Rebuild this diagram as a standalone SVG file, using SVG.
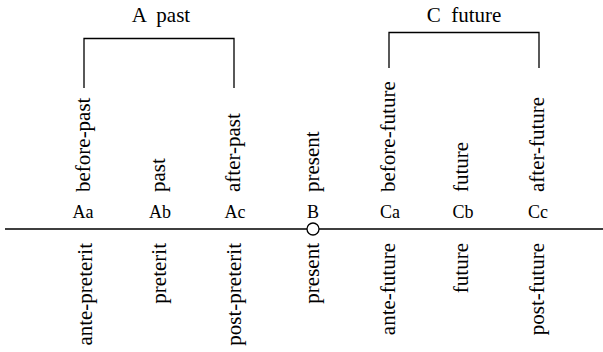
<svg xmlns="http://www.w3.org/2000/svg" width="603" height="352" viewBox="0 0 603 352" font-family="'Liberation Serif', 'DejaVu Serif', 'Times New Roman', serif">
<style>
text{font-family:'Liberation Serif','DejaVu Serif','Times New Roman',serif;fill:#000}
.t{font-size:21px;text-anchor:middle;white-space:pre}
.l{font-size:18px;text-anchor:middle}
.vu{font-size:21px;text-anchor:start}
.vd{font-size:21px;text-anchor:end}
.ln{stroke:#000;stroke-width:1.3;fill:none}
</style>
<rect width="603" height="352" fill="#fff"/>
<g id="connectors">
<path class="ln" d="M84,88 V38.5 H234 V88"/>
<path class="ln" d="M389,68 V32.5 H539 V68"/>
<path class="ln" d="M5,229 H307 M319,229 H603"/>
<circle class="ln" cx="313" cy="229" r="6"/>
</g>
<g id="titleA"><text class="t" x="161" y="22" xml:space="preserve">A  past</text></g>
<g id="titleC"><text class="t" x="464" y="22" xml:space="preserve">C  future</text></g>
<g id="Aa"><text class="l" x="83" y="218">Aa</text>
<text class="vu" transform="translate(90,192) rotate(-90)">before-past</text>
<text class="vd" transform="translate(92,243) rotate(-90)">ante-preterit</text></g>
<g id="Ab"><text class="l" x="160" y="218">Ab</text>
<text class="vu" transform="translate(165,192) rotate(-90)">past</text>
<text class="vd" transform="translate(166,243) rotate(-90)">preterit</text></g>
<g id="Ac"><text class="l" x="235" y="218">Ac</text>
<text class="vu" transform="translate(240,192) rotate(-90)">after-past</text>
<text class="vd" transform="translate(241,243) rotate(-90)">post-preterit</text></g>
<g id="B"><text class="l" x="313" y="218">B</text>
<text class="vu" transform="translate(319,192) rotate(-90)">present</text>
<text class="vd" transform="translate(319,243) rotate(-90)">present</text></g>
<g id="Ca"><text class="l" x="390" y="218">Ca</text>
<text class="vu" transform="translate(395,192) rotate(-90)">before-future</text>
<text class="vd" transform="translate(395,243) rotate(-90)">ante-future</text></g>
<g id="Cb"><text class="l" x="463" y="218">Cb</text>
<text class="vu" transform="translate(468,192) rotate(-90)">future</text>
<text class="vd" transform="translate(468,243) rotate(-90)">future</text></g>
<g id="Cc"><text class="l" x="538" y="218">Cc</text>
<text class="vu" transform="translate(544,192) rotate(-90)">after-future</text>
<text class="vd" transform="translate(544,243) rotate(-90)">post-future</text></g>
</svg>
